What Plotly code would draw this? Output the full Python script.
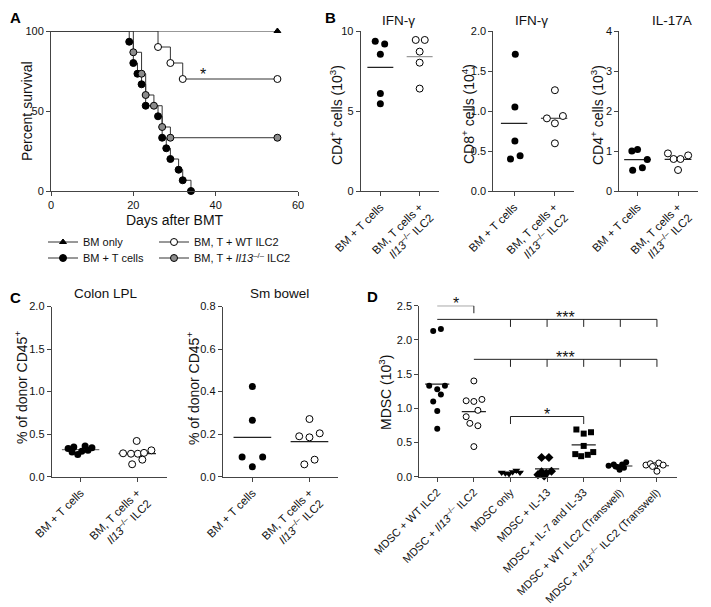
import numpy as np
import plotly.graph_objects as go

# ---------------- Panel A : survival (Kaplan-Meier) ----------------
bm_only_days = [55]
bm_only_surv = [100]
bmt_days = [19, 20, 21, 22, 23, 26, 27, 28, 29, 31, 32, 34]
bmt_surv = [93.3, 80.0, 73.3, 66.7, 53.3, 46.7, 33.3, 26.7, 20.0, 13.3, 6.7, 0.0]
wt_days = [26, 29, 32, 55]
wt_surv = [90, 80, 70, 70]
il13_days = [20, 22, 23, 25, 27, 29, 55]
il13_surv = [86.7, 73.3, 60.0, 53.3, 40.0, 33.3, 33.3]

# ---------------- Panel B ----------------
b_cats = ["BM + T cells", "BM, T cells +<br><i>Il13</i><sup>–/–</sup> ILC2"]
b1_ctrl = [9.36, 9.19, 8.54, 6.10, 5.46]
b1_ctrl_jit = [-0.13, 0.11, 0.0, 0.0, 0.0]
b1_ilc = [9.44, 9.44, 8.71, 8.02, 6.40]
b1_ilc_jit = [-0.10, 0.13, 0.0, 0.0, 0.0]
b2_ctrl = [1.71, 1.05, 0.625, 0.40, 0.44]
b2_ctrl_jit = [0.03, 0.02, 0.02, -0.09, 0.15]
b2_ilc = [1.26, 0.908, 0.846, 0.9375, 0.596]
b2_ilc_jit = [0.02, -0.18, 0.02, 0.22, 0.02]
b3_ctrl = [1.00, 1.04, 0.79, 0.52, 0.58]
b3_ctrl_jit = [-0.14, 0.0, 0.24, -0.12, 0.12]
b3_ilc = [0.94, 0.80, 0.80, 0.89, 0.525]
b3_ilc_jit = [-0.25, -0.11, 0.06, 0.25, 0.0]

# ---------------- Panel C ----------------
c1_ctrl = [0.33, 0.35, 0.26, 0.30, 0.36, 0.31, 0.34, 0.29]
c1_ctrl_jit = [-0.22, -0.12, -0.05, 0.02, 0.08, 0.13, 0.20, -0.15]
c1_ilc = [0.275, 0.27, 0.42, 0.27, 0.28, 0.31, 0.20, 0.146]
c1_ilc_jit = [-0.25, -0.11, -0.01, 0.01, 0.12, 0.25, 0.09, -0.09]
c2_ctrl = [0.424, 0.265, 0.093, 0.093, 0.047]
c2_ctrl_jit = [0.0, 0.0, -0.18, 0.18, 0.0]
c2_ilc = [0.271, 0.19, 0.185, 0.204, 0.058, 0.08]
c2_ilc_jit = [0.0, -0.18, 0.0, 0.18, -0.09, 0.09]

# ---------------- Panel D ----------------
d_cats = ["MDSC + WT ILC2",
          "MDSC + <i>Il13</i><sup>–/–</sup> ILC2",
          "MDSC only",
          "MDSC + IL-13",
          "MDSC + IL-7 and IL-33",
          "MDSC + WT ILC2 (Transwell)",
          "MDSC + <i>Il13</i><sup>–/–</sup> ILC2 (Transwell)"]
d_vals = [
    [2.13, 2.16, 1.33, 1.28, 1.33, 1.20, 1.10, 0.96, 0.70],
    [1.40, 1.11, 1.10, 1.13, 0.97, 0.877, 0.78, 0.745, 0.44],
    [0.06, 0.05, 0.04, 0.07, 0.09, 0.06],
    [0.28, 0.28, 0.07, 0.05, 0.08, 0.01, 0.03],
    [0.69, 0.63, 0.65, 0.45, 0.33, 0.30, 0.32, 0.36],
    [0.16, 0.18, 0.14, 0.18, 0.21, 0.10, 0.15, 0.13],
    [0.17, 0.19, 0.16, 0.20, 0.17, 0.08, 0.15],
]
d_jit = [
    [-0.11, 0.10, -0.22, 0.0, 0.21, 0.10, -0.11, 0.0, 0.0],
    [0.0, -0.21, 0.0, 0.22, 0.11, -0.21, -0.11, 0.11, 0.0],
    [-0.24, -0.14, -0.04, 0.06, 0.16, 0.26],
    [-0.15, 0.05, -0.15, -0.02, 0.12, -0.08, -0.25],
    [-0.20, 0.0, 0.20, 0.0, -0.23, -0.07, 0.11, 0.26],
    [-0.32, -0.18, -0.07, 0.05, 0.16, -0.02, -0.13, 0.10],
    [-0.30, -0.18, -0.06, 0.05, 0.17, 0.0, -0.12],
]
d_symbols = ["circle", "circle-open", "triangle-down", "diamond", "square", "circle", "circle-open"]
# comparisons: (left group, right group, groups with drop ticks, level, label)
d_brackets = [
    (0, 1, [1], 2.50, "*"),
    (0, 6, [2, 3, 4, 5, 6], 2.30, "***"),
    (1, 6, [2, 3, 4, 5, 6], 1.716, "***"),
    (2, 4, [2, 4], 0.88, "*"),
]

# ---------------- layout helpers ----------------
# The page body keeps the browser's default 8 px margin, so the figure is
# sized to fill the rest of the 711 x 607 window.
PAGE_W, PAGE_H, OFF = 711, 607, 8
W, H = PAGE_W - OFF, PAGE_H - OFF
FONT = "Liberation Sans, Arial, sans-serif"
INK = "#111111"
AX = "#444444"


def fx(p):
    return (p - OFF) / W


def fy(p):
    return 1 - (p - OFF) / H


fig = go.Figure()

# ---- Panel A traces ----
km_groups = [
    (bm_only_days, bm_only_surv, "triangle-up", "black", "BM only", "legend"),
    (bmt_days, bmt_surv, "circle", "black", "BM + T cells", "legend2"),
    (wt_days, wt_surv, "circle", "white", "BM, T + WT ILC2", "legend3"),
    (il13_days, il13_surv, "circle", "#8c8c8c", "BM, T + <i>Il13</i><sup>–/–</sup> ILC2", "legend4"),
]
for days, surv, sym, col, name, lg in km_groups:
    fig.add_trace(go.Scatter(x=[0] + days, y=[100] + surv, mode="lines", line_shape="hv",
                             line=dict(color="#333333", width=1), showlegend=False,
                             cliponaxis=False, xaxis="x", yaxis="y", hoverinfo="skip"))
for days, surv, sym, col, name, lg in km_groups:
    fig.add_trace(go.Scatter(x=days, y=surv, mode="markers",
                             marker=dict(symbol=sym, size=7 if sym == "circle" else 6, color=col,
                                         line=dict(color="black", width=1)),
                             showlegend=False, cliponaxis=False, xaxis="x", yaxis="y"))
    # legend entry
    fig.add_trace(go.Scatter(x=[None], y=[None], mode="lines+markers", name=name,
                             line=dict(color="#333333", width=1),
                             marker=dict(symbol=sym, size=7 if sym == "circle" else 6, color=col,
                                         line=dict(color="black", width=1)),
                             legend=lg, showlegend=True, xaxis="x", yaxis="y"))


def dot_group(xa, ya, center, vals, jit, filled, symbol="circle", size=7, mean_color="#222222"):
    xs = [center + j for j in jit]
    if filled:
        mk = dict(symbol=symbol, size=size, color="black", line=dict(color="black", width=0))
    else:
        mk = dict(symbol=symbol, size=size, color="white", line=dict(color="black", width=1))
    m = float(np.mean(vals))
    fig.add_trace(go.Scatter(x=[center - 0.33, center + 0.33], y=[m, m], mode="lines",
                             line=dict(color=mean_color, width=1.2), showlegend=False,
                             xaxis=xa, yaxis=ya, cliponaxis=False, hoverinfo="skip"))
    fig.add_trace(go.Scatter(x=xs, y=vals, mode="markers", marker=mk, showlegend=False,
                             xaxis=xa, yaxis=ya, cliponaxis=False))


# ---- Panel B ----
dot_group("x2", "y2", 0, b1_ctrl, b1_ctrl_jit, True)
dot_group("x2", "y2", 1, b1_ilc, b1_ilc_jit, False, mean_color="#9a9a9a")
dot_group("x3", "y3", 0, b2_ctrl, b2_ctrl_jit, True)
dot_group("x3", "y3", 1, b2_ilc, b2_ilc_jit, False)
dot_group("x4", "y4", 0, b3_ctrl, b3_ctrl_jit, True)
dot_group("x4", "y4", 1, b3_ilc, b3_ilc_jit, False)

# ---- Panel C ----
dot_group("x5", "y5", 0, c1_ctrl, c1_ctrl_jit, True, mean_color="#777777")
dot_group("x5", "y5", 1, c1_ilc, c1_ilc_jit, False)
dot_group("x6", "y6", 0, c2_ctrl, c2_ctrl_jit, True)
dot_group("x6", "y6", 1, c2_ilc, c2_ilc_jit, False)

# ---- Panel D ----
for i, (vals, jit, sym) in enumerate(zip(d_vals, d_jit, d_symbols)):
    filled = not sym.endswith("open")
    base = sym.replace("-open", "")
    sz = 6 if base in ("circle", "square") else 7
    dot_group("x7", "y7", i, vals, jit, filled, symbol=base, size=sz)

drop = 0.11
for left, right, ticks, level, label in d_brackets:
    fig.add_trace(go.Scatter(x=[left, right], y=[level, level], mode="lines",
                             line=dict(color="#222222", width=1), showlegend=False,
                             xaxis="x7", yaxis="y7", cliponaxis=False, hoverinfo="skip"))
    for t in ticks:
        fig.add_trace(go.Scatter(x=[t, t], y=[level, level - drop], mode="lines",
                                 line=dict(color="#222222", width=1), showlegend=False,
                                 xaxis="x7", yaxis="y7", cliponaxis=False, hoverinfo="skip"))

annotations = []
for left, right, ticks, level, label in d_brackets:
    cx = (left + right) / 2 if len(label) == 1 else 3.5
    annotations.append(dict(x=cx, y=level, xref="x7", yref="y7", text=label, showarrow=False,
                            xanchor="center", yanchor="middle", yshift=2,
                            font=dict(size=16, color=INK, family=FONT)))

annotations.append(dict(x=37, y=75, xref="x", yref="y", text="*", showarrow=False,
                        xanchor="center", yanchor="middle", yshift=-4,
                        font=dict(size=16, color=INK, family=FONT)))

# panel letters
for letter, px, py in [("A", 15, 17), ("B", 330, 17), ("C", 15, 297), ("D", 372, 296)]:
    annotations.append(dict(x=fx(px), y=fy(py), xref="paper", yref="paper", text="<b>%s</b>" % letter,
                            xanchor="center", yanchor="middle", showarrow=False,
                            font=dict(size=15, color="black", family=FONT)))

# subplot titles
for txt, px, py in [("IFN-γ", 398, 20), ("IFN-γ", 531, 20), ("IL-17A", 672, 20),
                    ("Colon LPL", 106, 293), ("Sm bowel", 279, 293)]:
    annotations.append(dict(x=fx(px), y=fy(py), xref="paper", yref="paper", text=txt,
                            xanchor="center", yanchor="middle", showarrow=False,
                            font=dict(size=13.5, color=INK, family=FONT)))

# y-axis titles (placed close to the axes as in the original)
for txt, px, py in [("Percent survival", 27, 111),
                    ("CD4<sup>+</sup> cells (10<sup>3</sup>)", 336, 115),
                    ("CD8<sup>+</sup> cells (10<sup>4</sup>)", 468, 114),
                    ("CD4<sup>+</sup> cells (10<sup>3</sup>)", 597, 115),
                    ("% of donor CD45<sup>+</sup>", 21, 388),
                    ("% of donor CD45<sup>+</sup>", 193, 389),
                    ("MDSC (10<sup>3</sup>)", 385, 392)]:
    annotations.append(dict(x=fx(px), y=fy(py), xref="paper", yref="paper", text=txt,
                            textangle=-90, xanchor="center", yanchor="middle", showarrow=False,
                            font=dict(size=14, color=INK, family=FONT)))


def yax(dom_top, dom_bot, rng, tickvals, fmt, anchor):
    return dict(domain=[fy(dom_bot), fy(dom_top)], range=rng, tickvals=tickvals,
                ticktext=[fmt.format(v) for v in tickvals], showline=True, linecolor=AX,
                linewidth=1, ticks="outside", ticklen=4, tickcolor=AX, tickwidth=1,
                showgrid=False, zeroline=False, anchor=anchor, automargin=False,
                tickfont=dict(size=11, color=INK, family=FONT))


def xcat(left, right, rng, cats, anchor, fsize=11.5):
    return dict(domain=[fx(left), fx(right)], range=rng, tickvals=list(range(len(cats))),
                ticktext=cats, tickangle=-45, showline=True, linecolor=AX, linewidth=1,
                ticks="outside", ticklen=4, tickcolor=AX, tickwidth=1, showgrid=False,
                zeroline=False, anchor=anchor, automargin=False,
                tickfont=dict(size=fsize, color=INK, family=FONT))


fig.update_layout(
    width=W, height=H, margin=dict(l=0, r=0, t=0, b=0, autoexpand=False),
    paper_bgcolor="white", plot_bgcolor="white",
    font=dict(family=FONT, color=INK),
    xaxis=dict(domain=[fx(51), fx(298)], range=[0, 60], tickvals=[0, 20, 40, 60],
               showline=True, linecolor=AX, linewidth=1, ticks="outside", ticklen=4,
               tickcolor=AX, showgrid=False, zeroline=False, anchor="y", automargin=False,
               tickfont=dict(size=11, color=INK, family=FONT),
               title=dict(text="Days after BMT", standoff=4, font=dict(size=14, color=INK, family=FONT))),
    yaxis=yax(31, 191, [0, 100], [0, 50, 100], "{:d}", "x"),
    xaxis2=xcat(360.7, 439.3, [-0.5, 1.5], b_cats, "y2"),
    yaxis2=yax(31, 191, [0, 10], [0, 5, 10], "{:d}", "x2"),
    xaxis3=xcat(493.3, 574.1, [-0.52, 1.5], b_cats, "y3"),
    yaxis3=yax(31, 191, [0, 2], [0, 0.5, 1.0, 1.5, 2.0], "{:.1f}", "x3"),
    xaxis4=xcat(619.3, 698.3, [-0.45, 1.5], b_cats, "y4"),
    yaxis4=yax(31, 191, [0, 4], [0, 1, 2, 3, 4], "{:d}", "x4"),
    xaxis5=xcat(51.7, 166.7, [-0.51, 1.52], b_cats, "y5"),
    yaxis5=yax(306.5, 476.7, [0, 2], [0, 0.5, 1.0, 1.5, 2.0], "{:.1f}", "x5"),
    xaxis6=xcat(222.7, 338, [-0.52, 1.5], b_cats, "y6"),
    yaxis6=yax(306.5, 476.7, [0, 0.8], [0, 0.2, 0.4, 0.6, 0.8], "{:.1f}", "x6"),
    xaxis7=xcat(419.3, 676.7, [-0.49, 6.54], d_cats, "y7", fsize=11),
    yaxis7=yax(305.7, 476.7, [0, 2.5], [0, 0.5, 1.0, 1.5, 2.0, 2.5], "{:.1f}", "x7"),
    annotations=annotations,
)

leg_common = dict(bgcolor="rgba(0,0,0,0)", borderwidth=0, xanchor="left", yanchor="middle",
                  font=dict(size=11, color=INK, family=FONT))
fig.update_layout(
    legend=dict(x=fx(43), y=fy(242), **leg_common),
    legend2=dict(x=fx(43), y=fy(258), **leg_common),
    legend3=dict(x=fx(154), y=fy(242), **leg_common),
    legend4=dict(x=fx(154), y=fy(258), **leg_common),
)

fig.write_html("out.html")
